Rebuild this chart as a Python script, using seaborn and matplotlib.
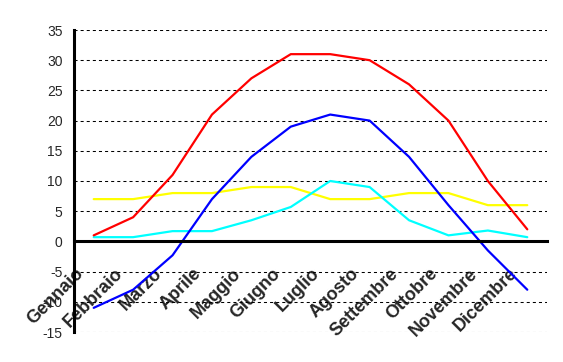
import matplotlib
matplotlib.use("Agg")
import matplotlib.pyplot as plt
import matplotlib.transforms as mtransforms
import numpy as np
import pandas as pd
import seaborn as sns

months = ["Gennaio", "Febbraio", "Marzo", "Aprile", "Maggio", "Giugno",
          "Luglio", "Agosto", "Settembre", "Ottobre", "Novembre", "Dicembre"]
serie_rossa = [1, 4, 11, 21, 27, 31, 31, 30, 26, 20, 10, 2]
serie_blu = [-11, -8, -2.3, 7, 14, 19, 21, 20, 14, 6, -1.5, -8]
serie_gialla = [7, 7, 8, 8, 9, 9, 7, 7, 8, 8, 6, 6]
serie_azzurra = [0.7, 0.7, 1.7, 1.7, 3.5, 5.7, 10, 9, 3.5, 1, 1.8, 0.7]
y_ticks = [-15, -10, -5, 0, 5, 10, 15, 20, 25, 30, 35]

series = {"Serie3": serie_gialla, "Serie4": serie_azzurra,
          "Serie2": serie_blu, "Serie1": serie_rossa}
colors = {"Serie3": "#FFFF00", "Serie4": "#00FFFF",
          "Serie2": "#0000FF", "Serie1": "#FF0000"}

rows = []
for name, vals in series.items():
    for i, v in enumerate(vals):
        rows.append({"idx": i, "mese": months[i], "valore": v, "serie": name})
df = pd.DataFrame(rows)

sns.set_style("white")
plt.rcParams["font.family"] = ["Liberation Sans", "DejaVu Sans"]
plt.rcParams["lines.scale_dashes"] = False

fig = plt.figure(figsize=(5.63, 3.62), dpi=100)
ax = fig.add_axes([74 / 563, 1 - 332 / 362, (547 - 74) / 563, (332 - 30) / 362])

sns.lineplot(data=df, x="idx", y="valore", hue="serie", palette=colors,
             hue_order=list(series.keys()), linewidth=1.6, legend=False,
             ax=ax, sort=False)

ax.set_xlim(-0.5, 11.5)
ax.set_ylim(-15, 35)
ax.set_xlabel("")
ax.set_ylabel("")

ax.set_yticks(y_ticks)
ax.set_yticklabels([str(t) for t in y_ticks], fontsize=10)
ax.yaxis.grid(True, color="black", linewidth=0.75, linestyle=(0, (2.2, 2.2)))
ax.xaxis.grid(False)
ax.set_axisbelow(True)

for s in ["top", "right"]:
    ax.spines[s].set_visible(False)
ax.spines["left"].set_linewidth(2.2)
ax.spines["left"].set_color("black")
ax.spines["bottom"].set_position(("data", 0))
ax.spines["bottom"].set_linewidth(2.2)
ax.spines["bottom"].set_color("black")

ax.set_xticks(np.arange(-0.5, 12, 1.0))
ax.set_xticklabels([])
ax.set_xticks(np.arange(12), minor=True)
ax.set_xticklabels(months, minor=True, rotation=45, ha="right", va="top",
                   fontsize=13, fontweight="bold")
ax.tick_params(axis="x", which="major", direction="out", length=5, width=1.6,
               color="black")
ax.tick_params(axis="x", which="minor", length=0, pad=17)
ax.tick_params(axis="y", which="major", direction="out", length=4.3, width=1.6,
               color="black", pad=4)

offset = mtransforms.ScaledTranslation(-7 / 100, 0, fig.dpi_scale_trans)
for lbl in ax.get_xticklabels(minor=True):
    lbl.set_transform(lbl.get_transform() + offset)

fig.savefig("out.png", dpi=100)
